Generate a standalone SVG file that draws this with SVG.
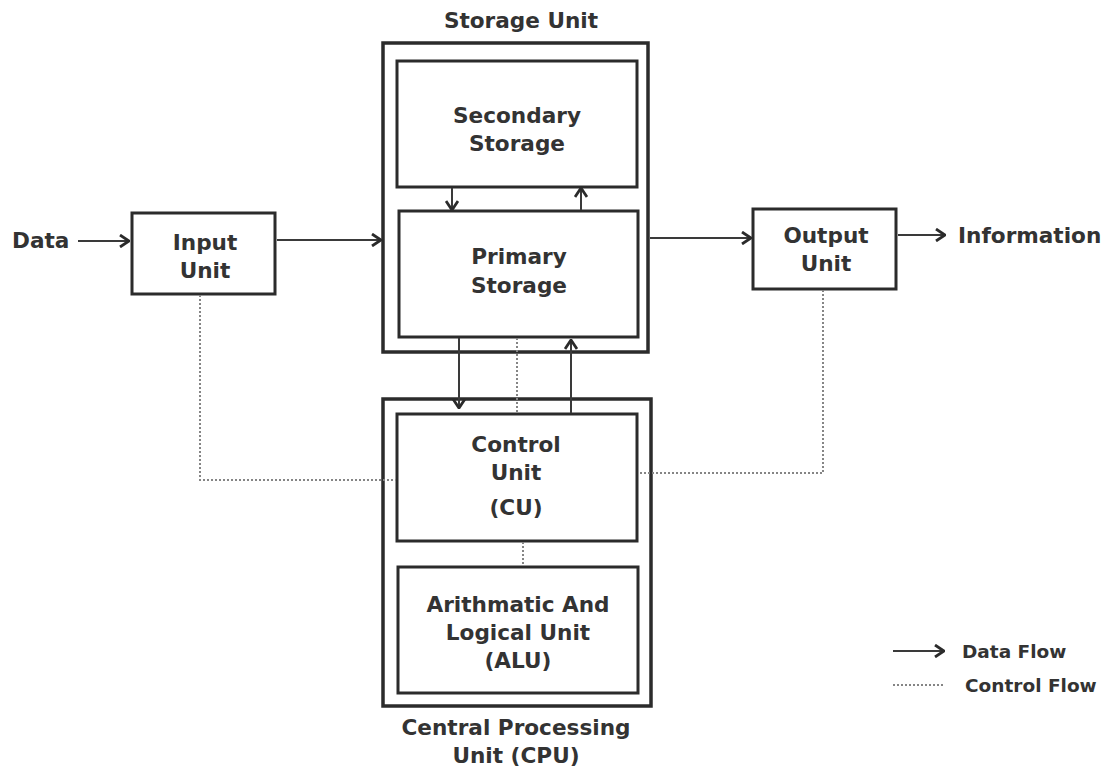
<svg xmlns="http://www.w3.org/2000/svg" width="1110" height="770" viewBox="0 0 1110 770">
<style>
text{font-family:"DejaVu Sans",Verdana,sans-serif;font-weight:bold;font-size:21.6px;fill:#333;text-anchor:middle}
.outer{fill:none;stroke:#2b2b2b;stroke-width:3.5}
.box{fill:#fff;stroke:#2b2b2b;stroke-width:3}
.data{fill:none;stroke:#3a3a3a;stroke-width:2}
.ctrl{fill:none;stroke:#858585;stroke-width:2;stroke-dasharray:2,2}
.lg{font-size:18.5px;text-anchor:start}
</style>
<defs>
<marker id="arr" viewBox="0 0 12 14" refX="11" refY="7" markerWidth="12" markerHeight="14" markerUnits="userSpaceOnUse" orient="auto">
<path d="M2,1 L11,7 L2,13" fill="none" stroke="#2b2b2b" stroke-width="2.8"/>
</marker>
</defs>
<rect width="1110" height="770" fill="#fff"/>
<g id="storage-unit">
<rect class="outer" x="383" y="43" width="265" height="309"/>
<text x="521" y="28">Storage Unit</text>
</g>
<g id="secondary-storage">
<rect class="box" x="397" y="61" width="240" height="126"/>
<text x="517" y="123">Secondary</text>
<text x="517" y="151">Storage</text>
</g>
<g id="primary-storage">
<rect class="box" x="399" y="211" width="239" height="126"/>
<text x="519" y="264">Primary</text>
<text x="519" y="293">Storage</text>
</g>
<g id="cpu">
<rect class="outer" x="383" y="399" width="268" height="307"/>
<text x="516" y="735">Central Processing</text>
<text x="516" y="763">Unit (CPU)</text>
</g>
<g id="control-unit">
<rect class="box" x="397" y="414" width="240" height="127"/>
<text x="516" y="452">Control</text>
<text x="516" y="480">Unit</text>
<text x="516" y="515">(CU)</text>
</g>
<g id="alu">
<rect class="box" x="398" y="567" width="240" height="126"/>
<text x="518" y="612">Arithmatic And</text>
<text x="518" y="640">Logical Unit</text>
<text x="518" y="668">(ALU)</text>
</g>
<g id="input-unit">
<rect class="box" x="132" y="213" width="143" height="81"/>
<text x="205" y="250">Input</text>
<text x="205" y="278">Unit</text>
</g>
<g id="output-unit">
<rect class="box" x="753" y="209" width="143" height="80"/>
<text x="826" y="243">Output</text>
<text x="826" y="271">Unit</text>
</g>
<g id="data-label"><text x="12" y="248" style="text-anchor:start">Data</text></g>
<g id="information-label"><text x="958" y="243" style="text-anchor:start">Information</text></g>
<g id="connectors">
<line class="data" x1="78" y1="241" x2="129" y2="241" marker-end="url(#arr)"/>
<line class="data" x1="277" y1="240" x2="381" y2="240" marker-end="url(#arr)"/>
<line class="data" x1="650" y1="238" x2="751" y2="238" marker-end="url(#arr)"/>
<line class="data" x1="898" y1="235" x2="945" y2="235" marker-end="url(#arr)"/>
<line class="data" x1="452" y1="188" x2="452" y2="210" marker-end="url(#arr)"/>
<line class="data" x1="581" y1="210" x2="581" y2="188" marker-end="url(#arr)"/>
<line class="data" x1="459" y1="338" x2="459" y2="408" marker-end="url(#arr)"/>
<line class="data" x1="571" y1="413" x2="571" y2="340" marker-end="url(#arr)"/>
<line class="ctrl" x1="517" y1="338" x2="517" y2="413"/>
<line class="ctrl" x1="523" y1="542" x2="523" y2="566"/>
<polyline class="ctrl" points="200,295 200,480 396,480"/>
<polyline class="ctrl" points="823,290 823,473 638,473"/>
</g>
<g id="legend">
<line class="data" x1="893" y1="651" x2="944" y2="651" marker-end="url(#arr)"/>
<text class="lg" x="962" y="658">Data Flow</text>
<line class="ctrl" x1="893" y1="685" x2="945" y2="685"/>
<text class="lg" x="965" y="692">Control Flow</text>
</g>
</svg>
